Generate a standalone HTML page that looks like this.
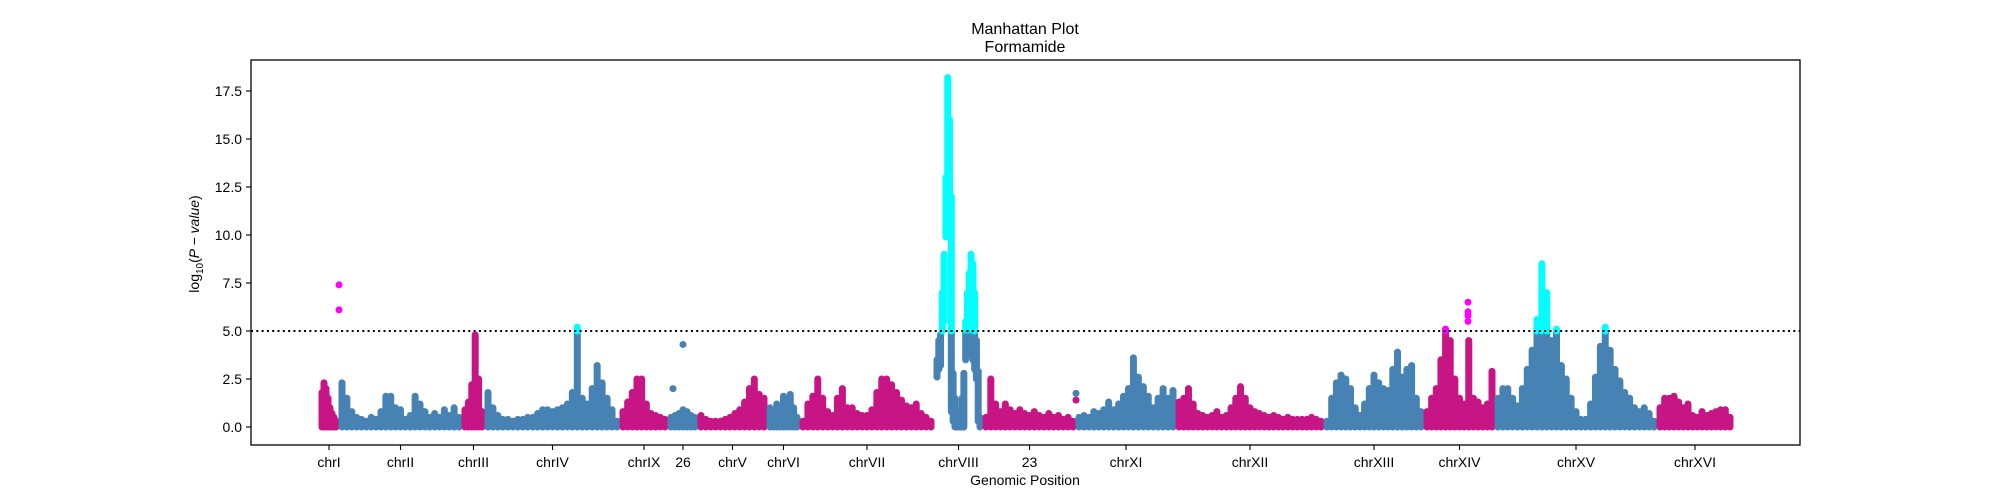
<!DOCTYPE html>
<html><head><meta charset="utf-8"><style>
html,body{margin:0;padding:0;background:#fff;}
svg{display:block;font-family:"Liberation Sans","DejaVu Sans",sans-serif;}
</style></head><body>
<svg id="chart" width="2000" height="500" viewBox="0 0 2000 500" xmlns="http://www.w3.org/2000/svg">
<text x="1025" y="34" text-anchor="middle" font-size="16">Manhattan Plot</text>
<text x="1025" y="52" text-anchor="middle" font-size="16">Formamide</text>
<g id="marks"></g>
<g id="axes"></g>
<text x="1025" y="485" text-anchor="middle" font-size="14">Genomic Position</text>
<text transform="translate(199,244) rotate(-90)" text-anchor="middle" font-size="14">log<tspan font-size="10" dy="4">10</tspan><tspan dy="-4">(</tspan><tspan font-style="italic">P − value</tspan>)</text>
</svg>
<script>
const chromNames = ["chrI","chrII","chrIII","chrIV","chrIX","26","chrV","chrVI","chrVII","chrVIII","23","chrXI","chrXII","chrXIII","chrXIV","chrXV","chrXVI"];
const chromStart = [69,89,212,235,370,418,448,517,550,684,733,826,926,1074,1174,1245,1407];
const chromEnd   = [89,212,235,370,418,448,517,550,684,733,826,926,1074,1174,1245,1407,1483];
const chromHigh = [
 [1.8,2.3,2.0,1.5,1.0,0.7,0.5,0.3],
 [2.3,1.5,0.8,0.5,0.4,0.3,0.5,0.4,0.8,1.6,1.6,1.0,0.9,0.4,0.6,1.6,1.2,0.8,0.5,0.7,0.5,0.9,0.6,1.0,0.5],
 [0.9,1.3,2.2,4.8,2.5,0.8],
 [1.8,1.0,0.6,0.4,0.4,0.3,0.4,0.4,0.5,0.5,0.7,0.9,0.9,0.8,0.9,1.0,1.2,1.8,5.2,1.5,1.2,2.0,3.2,2.3,1.5,0.9,0.3],
 [0.8,1.3,1.8,2.5,2.5,1.2,0.7,0.6,0.5,0.4],
 [0.5,0.6,0.7,0.9,0.8,0.6,0.5],
 [0.6,0.4,0.3,0.3,0.3,0.4,0.5,0.7,0.9,1.3,2.0,2.5,1.7,1.5],
 [1.0,0.8,1.2,0.7,1.6,1.0,1.7,1.0,0.5],
 [0.3,1.2,1.6,2.5,1.5,0.8,0.6,1.5,2.0,1.0,1.0,0.7,0.6,0.6,0.9,1.8,2.5,2.5,2.2,1.8,1.4,1.1,1.0,1.2,0.7,0.5,0.3],
 [3.5,4.5,4.8,7.0,9.0,13.0,18.2,16.0,12.0,2.8,1.5,0.5,0.3,0.8,1.5,2.8,5.5,7.0,8.0,9.0,8.5,7.0,4.5,2.9,0.5],
 [0.5,2.5,1.2,0.8,1.2,0.9,0.7,0.9,0.7,0.6,0.8,0.6,0.5,0.7,0.5,0.6,0.4,0.5,0.3],
 [0.5,0.6,0.5,0.8,0.7,0.9,1.3,0.9,1.2,1.6,2.0,3.6,2.6,2.1,1.6,1.0,1.5,2.0,1.5,1.9],
 [1.3,1.5,2.0,1.2,0.7,0.6,0.5,0.6,0.8,0.5,0.6,1.0,1.5,2.1,1.5,1.0,0.8,0.7,0.6,0.5,0.6,0.5,0.4,0.5,0.4,0.4,0.4,0.4,0.5,0.4,0.3],
 [0.3,1.5,2.3,2.7,2.5,2.0,1.0,0.6,1.2,2.0,2.7,2.3,2.0,1.9,3.0,3.9,2.6,3.0,3.2,1.5,0.8],
 [0.8,1.5,2.0,3.5,5.1,4.5,2.5,1.5,1.2,4.5,1.5,1.3,1.0,1.2,2.9],
 [1.5,2.0,2.0,1.5,1.1,2.0,3.0,4.0,5.6,8.5,7.0,4.5,5.1,3.2,2.5,1.5,0.8,0.4,0.4,1.2,2.6,4.2,5.2,4.0,3.0,2.4,1.8,1.5,1.0,0.8,1.0,0.7,0.3],
 [1.0,1.5,1.5,1.6,1.3,1.0,1.2,0.6,0.5,0.8,0.6,0.7,0.8,0.9,0.9,0.5]
];
const chromLowVIII = [2.6,3.0,3.2,5.0,5.5,9.9,12.0,10.0,0.8,0.3,0,0,0,0,0,0,3.5,4.0,3.8,4.0,3.5,3.0,2.5,0.3,0];
const outlierChrom = [0,0,5,5,14,14,14,14,10,11];
const outlierPos   = [89,89,423,433,1218,1218,1218,1218,826,826];
const outlierVal   = [7.4,6.1,2.0,4.3,6.5,6.0,5.8,5.5,1.4,1.75];
const yTicks = [0,2.5,5,7.5,10,12.5,15,17.5];
const threshold = 5;

const NS="http://www.w3.org/2000/svg";
const X0=251,X1=1800,Y0=60,Y1=445;
const xScale=g=>250+g;
const yScale=v=>427-19.2*v;
const marks=document.getElementById('marks');
const axes=document.getElementById('axes');
const base=["#c71585","#4682b4"], sig=["#ff00ff","#00ffff"];
function seg(x,a,b,col,name){
  const l=document.createElementNS(NS,'line');
  l.setAttribute('x1',x);l.setAttribute('x2',x);
  l.setAttribute('y1',yScale(a));l.setAttribute('y2',yScale(b));
  l.setAttribute('stroke',col);l.setAttribute('stroke-width',7);l.setAttribute('stroke-linecap','round');
  
  
  marks.appendChild(l);
}
chromHigh.forEach((vals,ci)=>{
  const n=vals.length, s=chromStart[ci], e=chromEnd[ci], par=ci%2;
  vals.forEach((v,i)=>{
    const g=s+3+(e-s-6)*(n===1?0.5:i/(n-1));
    const x=xScale(g);
    const lo=(ci===9)?chromLowVIII[i]:0;
    const nm=chromNames[ci].toLowerCase()+'-snp-'+i;
    if(v<=threshold){seg(x,lo,v,base[par],nm);}
    else{
      if(lo<threshold) seg(x,lo,threshold,base[par],nm);
      seg(x,Math.max(lo,threshold),v,sig[par],nm+'-significant');
    }
  });
});
outlierVal.forEach((v,i)=>{
  const c=document.createElementNS(NS,'circle');
  const par=outlierChrom[i]%2;
  c.setAttribute('cx',xScale(outlierPos[i]));c.setAttribute('cy',yScale(v));c.setAttribute('r',3.5);
  c.setAttribute('fill',v>threshold?sig[par]:base[par]);
  
  
  marks.appendChild(c);
});
const th=document.createElementNS(NS,'line');
th.setAttribute('x1',X0);th.setAttribute('x2',X1);th.setAttribute('y1',yScale(threshold));th.setAttribute('y2',yScale(threshold));
th.setAttribute('stroke','#000');th.setAttribute('stroke-width',2);th.setAttribute('stroke-dasharray','2,3.3');


axes.appendChild(th);
const fr=document.createElementNS(NS,'rect');
fr.setAttribute('x',X0);fr.setAttribute('y',Y0);fr.setAttribute('width',X1-X0);fr.setAttribute('height',Y1-Y0);
fr.setAttribute('fill','none');fr.setAttribute('stroke','#000');fr.setAttribute('stroke-width',1.3);


axes.appendChild(fr);
yTicks.forEach(t=>{
  const y=yScale(t);
  const l=document.createElementNS(NS,'line');
  l.setAttribute('x1',X0-5);l.setAttribute('x2',X0);l.setAttribute('y1',y);l.setAttribute('y2',y);l.setAttribute('stroke','#000');l.setAttribute('stroke-width',1.1);
  
  
  axes.appendChild(l);
  const tx=document.createElementNS(NS,'text');
  tx.setAttribute('x',X0-9);tx.setAttribute('y',y+5);tx.setAttribute('text-anchor','end');tx.setAttribute('font-size','14');
  tx.textContent=t.toFixed(1);
  
  
  axes.appendChild(tx);
});
chromNames.forEach((nm,ci)=>{
  const x=xScale((chromStart[ci]+chromEnd[ci])/2);
  const l=document.createElementNS(NS,'line');
  l.setAttribute('x1',x);l.setAttribute('x2',x);l.setAttribute('y1',Y1);l.setAttribute('y2',Y1+5);l.setAttribute('stroke','#000');l.setAttribute('stroke-width',1.1);
  
  
  axes.appendChild(l);
  const tx=document.createElementNS(NS,'text');
  tx.setAttribute('x',x);tx.setAttribute('y',Y1+22);tx.setAttribute('text-anchor','middle');tx.setAttribute('font-size','14');
  tx.textContent=nm;
  
  
  axes.appendChild(tx);
});
</script>
</body></html>
